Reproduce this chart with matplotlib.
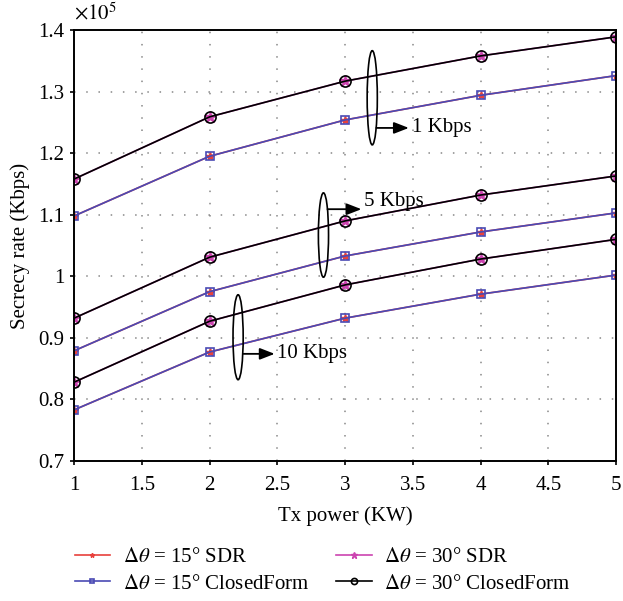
import numpy as np
import matplotlib
matplotlib.use('Agg')
import matplotlib.pyplot as plt
from matplotlib.patches import Ellipse

plt.rcParams['font.family'] = ['Liberation Serif', 'DejaVu Serif']
plt.rcParams['mathtext.fontset'] = 'stix'

tx_power = [1, 2, 3, 4, 5]

# secrecy rate (Kbps) per scenario: rate requirement -> (15 deg, 30 deg)
rate_1k_15 = [109800, 119500, 125400, 129400, 132600]
rate_1k_30 = [115800, 125900, 131700, 135800, 138900]
rate_5k_15 = [87900, 97500, 103300, 107200, 110300]
rate_5k_30 = [93200, 103100, 109000, 113200, 116300]
rate_10k_15 = [78300, 87700, 93200, 97100, 100200]
rate_10k_30 = [82800, 92700, 98600, 102800, 106000]

labels = [r'$\mathit{\Delta\theta}$ = 15° SDR', r'$\mathit{\Delta\theta}$ = 15° ClosedForm',
          r'$\mathit{\Delta\theta}$ = 30° SDR', r'$\mathit{\Delta\theta}$ = 30° ClosedForm']
scale = 1e5

fig = plt.figure(figsize=(6.23, 6.01), dpi=100)
ax = fig.add_axes([0.119, 0.233, 0.87, 0.717])

red = '#e8413c'
blue = '#4a4ab4'
mag = '#cc44b0'

for i, (r15, r30) in enumerate([(rate_1k_15, rate_1k_30), (rate_5k_15, rate_5k_30),
                                (rate_10k_15, rate_10k_30)]):
    y15 = np.array(r15) / scale
    y30 = np.array(r30) / scale
    ax.plot(tx_power, y15, color=red, marker='*', ms=6, lw=1.2,
            label=labels[0] if i == 0 else None)
    ax.plot(tx_power, y15, color=blue, marker='s', ms=6, mfc='none', mew=1.2, lw=1.2,
            label=labels[1] if i == 0 else None)
    ax.plot(tx_power, y30, color=mag, marker='*', ms=9, lw=1.2,
            label=labels[2] if i == 0 else None)
    ax.plot(tx_power, y30, color='black', marker='o', ms=8, mfc='none', mew=1.2, lw=1.2,
            label=labels[3] if i == 0 else None)

# ellipses and annotations
for cx, cy, h, ax0, ay, tx, txt in [(3.2, 1.29, 0.153, 3.23, 1.241, 3.47, '1 Kbps'),
                                    (2.84, 1.067, 0.137, 2.87, 1.109, 3.12, '5 Kbps'),
                                    (2.21, 0.901, 0.138, 2.25, 0.874, 2.48, '10 Kbps')]:
    ax.add_patch(Ellipse((cx, cy), 0.075, h, fill=False, ec='black', lw=1.2, zorder=5))
    ax.annotate('', xy=(tx, ay), xytext=(ax0, ay),
                arrowprops=dict(arrowstyle='-|>,head_length=0.9,head_width=0.35',
                                color='black', lw=1.3, shrinkA=0, shrinkB=0))
    ty = ay + (0.013 if txt == '5 Kbps' else 0)
    ax.text(tx + 0.02, ty, txt, fontsize=15, va='center', ha='left')

ax.set_xlim(1, 5)
ax.set_ylim(0.7, 1.4)
ax.set_xticks(np.arange(1, 5.01, 0.5))
ax.set_xticklabels(['1', '1.5', '2', '2.5', '3', '3.5', '4', '4.5', '5'])
ax.set_yticks(np.arange(0.7, 1.41, 0.1))
ax.set_yticklabels(['0.7', '0.8', '0.9', '1', '1.1', '1.2', '1.3', '1.4'])
ax.tick_params(labelsize=15, direction='out', length=3, width=1.2)
ax.tick_params(axis='x', pad=8)
ax.tick_params(axis='y', pad=4)
ax.grid(True, ls=(0, (1, 7)), color='#888888', lw=1.1)
for s in ax.spines.values():
    s.set_linewidth(1.4)
ax.set_xlabel('Tx power (KW)', fontsize=15, labelpad=8)
ax.set_ylabel('Secrecy rate (Kbps)', fontsize=15, labelpad=6)
ax.text(0.0, 1.012, r'$\times 10^5$', transform=ax.transAxes, fontsize=15,
        ha='left', va='bottom')

fig.legend(loc='lower left', bbox_to_anchor=(0.12, 0.012), ncol=2, frameon=False,
           fontsize=15, handlelength=1.7, handletextpad=0.6, columnspacing=1.3,
           labelspacing=0.35, markerscale=0.55, borderpad=0, borderaxespad=0)

fig.savefig('out.png', dpi=100)
